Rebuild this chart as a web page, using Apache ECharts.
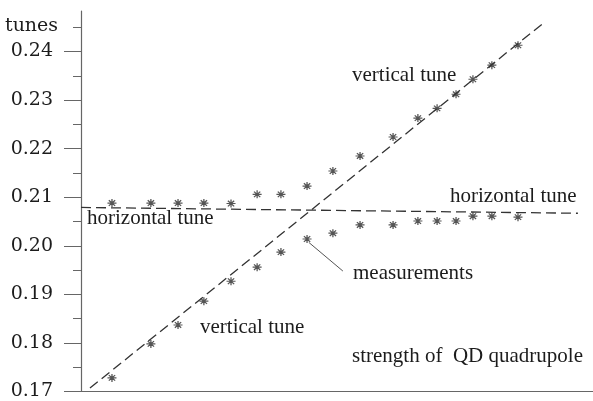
<!DOCTYPE html>
<html>
<head>
<meta charset="utf-8">
<script src="https://cdn.jsdelivr.net/npm/echarts@6/dist/echarts.min.js"></script>
<style>
  html, body { margin: 0; padding: 0; background: #fff; }
  #chart { width: 593px; height: 401px; }
</style>
</head>
<body>
<div id="chart"></div>
<script>
// Quadrupole strength (arbitrary units) at which the tunes were measured
const strength = [1.21, 2.73, 3.79, 4.80, 5.86, 6.88, 7.81, 8.83, 9.84, 10.90, 12.19, 13.16, 13.91, 14.65, 15.31, 16.05, 17.07];
// Measured tunes: upper and lower branch
const upperTune = [0.2088, 0.2088, 0.2088, 0.2088, 0.2087, 0.2106, 0.2106, 0.2123, 0.2154, 0.2185, 0.2224, 0.2263, 0.2283, 0.2312, 0.2343, 0.2372, 0.2413];
const lowerTune = [0.1728, 0.1798, 0.1837, 0.1886, 0.1927, 0.1956, 0.1987, 0.2014, 0.2026, 0.2043, 0.2043, 0.2051, 0.2051, 0.2051, 0.2061, 0.2061, 0.2059];
// Uncoupled tune lines (end points)
const verticalLine = [[0.35, 0.1707], [18.0, 0.2456]];
const horizontalLine = [[0.0, 0.2079], [19.41, 0.2067]];
// Tick values on the tune axis
const majorTicks = [0.17, 0.18, 0.19, 0.20, 0.21, 0.22, 0.23, 0.24];
const minorTicks = [0.175, 0.185, 0.195, 0.205, 0.215, 0.225, 0.235, 0.245];
// Pointer from a measurement to its caption
const pointer = [[8.90, 0.2007], [10.23, 0.1948]];

const ink = '#1c1c1c';
const axisInk = '#666';
const serif = '"Liberation Serif", "Times New Roman", serif';
const labelSerif = '"DejaVu Serif", serif';

const star = 'path://M0,5 L10,5 M5,0 L5,10 M1.5,1.5 L8.5,8.5 M8.5,1.5 L1.5,8.5';

function pairs(xs, ys) { return xs.map((x, i) => [x, ys[i]]); }

const yMin = 0.17, yMax = 0.24835;

const chart = echarts.init(document.getElementById('chart'), null, { renderer: 'canvas' });
chart.setOption({
  backgroundColor: '#fff',
  animation: false,
  grid: { left: 81, right: 0, top: 11, bottom: 9.3, containLabel: false },
  xAxis: {
    type: 'value', min: 0, max: 20,
    axisLine: { show: true, lineStyle: { color: axisInk, width: 1.2 } },
    axisTick: { show: false }, axisLabel: { show: false }, splitLine: { show: false }
  },
  yAxis: [
    {
      type: 'value', min: yMin, max: yMax, position: 'left',
      axisLine: { show: true, lineStyle: { color: axisInk, width: 1.2 } },
      axisTick: { show: true, customValues: majorTicks, length: 17, lineStyle: { color: axisInk, width: 1 } },
      axisLabel: {
        customValues: majorTicks, margin: 28,
        formatter: v => v.toFixed(2),
        color: ink, fontFamily: labelSerif, fontSize: 19
      },
      splitLine: { show: false }
    },
    {
      type: 'value', min: yMin, max: yMax, position: 'left',
      axisLine: { show: false },
      axisTick: { show: true, customValues: minorTicks, length: 8, lineStyle: { color: axisInk, width: 1 } },
      axisLabel: { show: false },
      splitLine: { show: false }
    }
  ],
  series: [
    {
      type: 'line', data: verticalLine, symbol: 'none', silent: true,
      lineStyle: { color: '#333', width: 1.3, type: [10, 5] }
    },
    {
      type: 'line', data: horizontalLine, symbol: 'none', silent: true,
      lineStyle: { color: '#333', width: 1.3, type: [10, 5] }
    },
    {
      type: 'scatter', data: pairs(strength, upperTune),
      symbol: star, symbolSize: [9, 8],
      itemStyle: { color: 'none', borderColor: '#2a2a2a', borderWidth: 1.2 }
    },
    {
      type: 'scatter', data: pairs(strength, lowerTune),
      symbol: star, symbolSize: [9, 8],
      itemStyle: { color: 'none', borderColor: '#2a2a2a', borderWidth: 1.2 },
      markLine: {
        silent: true, symbol: 'none', animation: false,
        label: { show: false },
        lineStyle: { color: '#555', width: 1, type: 'solid' },
        data: [[{ coord: pointer[0] }, { coord: pointer[1] }]]
      }
    }
  ],
  graphic: [
    { type: 'text', x: 5, y: 26, style: { text: 'tunes', font: '19px ' + labelSerif, fill: ink, verticalAlign: 'middle' } },
    { type: 'text', x: 352, y: 75, style: { text: 'vertical tune', font: '21px ' + serif, fill: ink, verticalAlign: 'middle' } },
    { type: 'text', x: 450, y: 196, style: { text: 'horizontal tune', font: '21px ' + serif, fill: ink, verticalAlign: 'middle' } },
    { type: 'text', x: 87, y: 218, style: { text: 'horizontal tune', font: '21px ' + serif, fill: ink, verticalAlign: 'middle' } },
    { type: 'text', x: 353, y: 273, style: { text: 'measurements', font: '21px ' + serif, fill: ink, verticalAlign: 'middle' } },
    { type: 'text', x: 200, y: 327, style: { text: 'vertical tune', font: '21px ' + serif, fill: ink, verticalAlign: 'middle' } },
    { type: 'text', x: 352, y: 356, style: { text: 'strength of  QD quadrupole', font: '21px ' + serif, fill: ink, verticalAlign: 'middle' } }
  ]
});
</script>
</body>
</html>
